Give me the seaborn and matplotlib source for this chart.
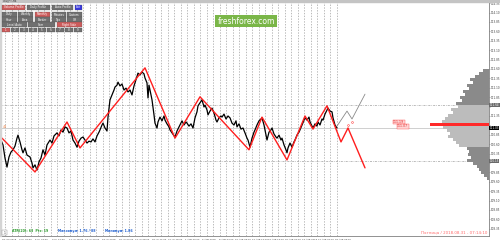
import numpy as np
import pandas as pd
import matplotlib
matplotlib.use("Agg")
import matplotlib.pyplot as plt
import seaborn as sns
from matplotlib.patches import Rectangle

# ---------------- data ----------------
bar_index = [1, 3, 5, 7, 9, 11, 13, 15, 17, 18, 20, 22, 23, 25, 27, 30, 32, 33, 35, 37, 39, 41, 43, 45, 47,
             50, 52, 54, 57, 59, 61, 63, 65, 67, 69, 71, 73, 75, 77, 79, 81, 83, 85, 87, 89, 91, 93, 95, 97,
             99, 100, 102, 103, 105, 107, 108, 110, 112, 114, 115, 117, 118, 120, 122, 124, 126, 128, 130,
             132, 134, 135, 137, 138, 140, 142, 144, 145, 147, 148, 149, 150, 152, 153, 154, 155, 157, 158,
             160, 162, 164, 165, 167, 169, 170, 172, 175, 177, 179, 180, 182, 184, 186, 187, 189, 191, 193,
             195, 197, 198, 200, 202, 204, 205, 207, 208, 210, 212, 214, 216, 217, 219, 221, 222, 224, 226,
             228, 230, 232, 234, 236, 237, 239, 241, 243, 245, 247, 248, 250, 252, 254, 255, 257, 259, 261,
             262, 264, 266, 267, 269, 271, 272, 274, 276, 277, 279, 281, 282, 284, 286, 287, 288, 290, 292,
             294, 295, 297, 299, 300, 302, 304, 305, 307, 309, 310, 312, 313, 315, 317, 318, 320, 322, 323,
             325, 327, 328, 330, 332, 333, 335, 337]
close = [110.71, 110.58, 110.23, 109.99, 110.26, 110.39, 110.45, 110.55, 110.76, 110.84, 110.66, 110.45,
         110.37, 110.50, 110.31, 110.26, 110.10, 109.97, 110.05, 109.91, 110.13, 110.23, 110.45, 110.31,
         110.58, 110.71, 110.63, 110.82, 110.90, 110.82, 110.98, 110.92, 111.06, 111.03, 110.90, 110.95,
         110.71, 110.63, 110.52, 110.68, 110.76, 110.79, 110.71, 110.63, 110.68, 110.66, 110.74, 110.66,
         110.82, 110.92, 110.98, 111.11, 111.16, 111.03, 110.95, 111.32, 111.78, 111.91, 112.04, 112.12,
         112.17, 112.25, 112.15, 112.20, 112.04, 112.09, 111.99, 112.04, 111.91, 112.15, 112.23, 112.41,
         112.49, 112.44, 112.52, 112.47, 112.36, 112.23, 111.83, 112.17, 112.04, 111.78, 111.59, 111.38,
         111.16, 111.03, 111.19, 111.32, 111.22, 111.35, 111.24, 111.14, 111.06, 110.98, 110.90, 110.79,
         110.95, 111.06, 111.11, 111.22, 111.11, 111.19, 111.16, 111.08, 111.14, 111.03, 111.30, 111.46,
         111.62, 111.70, 111.78, 111.59, 111.64, 111.51, 111.38, 111.48, 111.56, 111.43, 111.24, 111.19,
         111.30, 111.35, 111.32, 111.40, 111.27, 111.35, 111.30, 111.16, 111.11, 111.22, 111.06, 111.14,
         111.00, 111.03, 110.90, 110.76, 110.71, 110.52, 110.76, 110.92, 110.98, 111.11, 111.22, 111.27,
         111.30, 111.11, 110.84, 110.71, 110.92, 110.98, 111.03, 110.87, 110.79, 110.76, 110.84, 110.71,
         110.76, 110.58, 110.45, 110.37, 110.50, 110.63, 110.52, 110.66, 110.71, 110.84, 110.92, 110.98,
         111.11, 111.24, 111.30, 111.24, 111.32, 111.19, 111.08, 111.03, 111.14, 111.08, 111.19, 111.11,
         111.27, 111.24, 111.40, 111.51, 111.56, 111.48, 111.46, 111.30, 111.11, 111.03]

zz_index = [2, 35, 67, 80, 145, 175, 200, 249, 262, 287, 305, 313, 327, 341, 348, 365]
zz_price = [110.76, 109.86, 111.19, 110.50, 112.63, 110.76, 111.86, 110.45, 111.32, 110.18, 111.35,
            111.00, 111.62, 110.66, 111.03, 109.97]
alt_index = [337, 347, 352, 365]
alt_price = [111.08, 111.48, 111.27, 111.93]

levels = [111.64, 110.15]
last_price = 111.03
poc_price = 111.12

prof_price = [112.56, 112.48, 112.40, 112.32, 112.24, 112.16, 112.08, 112.00, 111.92, 111.84, 111.76,
              111.68, 111.60, 111.52, 111.44, 111.36, 111.28, 111.20, 111.12, 111.04, 110.96, 110.88,
              110.80, 110.72, 110.64, 110.56, 110.48, 110.40, 110.32, 110.24, 110.16, 110.08, 110.00,
              109.92, 109.84, 109.76, 109.68]
prof_width = [6, 10, 14, 19, 16, 22, 20, 26, 24, 29, 27, 33, 31, 38, 36, 41, 44, 47, 59, 46, 42, 39,
              41, 36, 33, 30, 22, 20, 21, 18, 22, 16, 12, 10, 8, 5, 2]

price_ticks = ["114.35", "114.10", "113.85", "113.60", "113.35", "113.10", "112.85", "112.60", "112.35",
               "112.10", "111.85", "", "111.35", "", "110.85", "110.60", "110.35", "",
               "109.85", "109.60", "109.35", "109.10", "108.85", "108.60", "108.35"]
price_tick_vals = [114.35, 114.10, 113.85, 113.60, 113.35, 113.10, 112.85, 112.60, 112.35, 112.10, 111.85,
                   111.60, 111.35, 111.10, 110.85, 110.60, 110.35, 110.10, 109.85, 109.60, 109.35, 109.10,
                   108.85, 108.60, 108.35]
date_index = [2, 19, 35, 52, 69, 85, 102, 119, 135, 152, 168, 185, 202, 219, 235, 252, 268, 285, 302, 318, 335]
date_labels = ["29 Jun 2018", "3 Jul 04:00", "5 Jul 08:00", "9 Jul 12:00", "11 Jul 16:00", "13 Jul 20:00",
               "18 Jul 2018", "20 Jul 04:00", "24 Jul 08:00", "26 Jul 12:00", "30 Jul 16:00", "1 Aug 20:00",
               "6 Aug 2018", "8 Aug 04:00", "10 Aug 08:00", "14 Aug 12:00", "16 Aug 16:00", "20 Aug 20:00",
               "23 Aug 2018", "27 Aug 04:00", "29 Aug 08:00"]

# ---------------- figure ----------------
sns.set_style("white")
plt.rcParams['font.family'] = ['DejaVu Sans']

fig = plt.figure(figsize=(5.0, 2.44), dpi=100)
ax = fig.add_axes([0.0, 8 / 244, 489 / 500, 234 / 244])
ax.set_xlim(0, 489)
ax.set_ylim(108.157, 114.382)

# day separators
for xv in np.arange(5, 343, 6.5):
    ax.axvline(xv, color='#a0a0a0', lw=0.5, ls=(0, (2, 2)), zorder=1)

# horizontal levels
for lv in levels:
    ax.axhline(lv, color='#a0a0a0', lw=0.5, ls=(0, (3, 1.5, 1, 1.5)), zorder=1)
ax.axhline(last_price, color='#c8c8c8', lw=0.6, zorder=1)

# volume profile
pcol = ['#8a8a8a' if (p >= 111.68 or p <= 110.48) else '#bcbcbc' for p in prof_price]
pw = np.array(prof_width, dtype=float)
ax.barh(prof_price, pw, left=489 - pw, height=0.07, color=pcol, edgecolor='none', zorder=2)
ax.barh([poc_price], [59], left=[430], height=0.09, color='#ff2a2a', edgecolor='none', zorder=3)

# price
df = pd.DataFrame({'bar': bar_index, 'price': close})
sns.lineplot(data=df, x='bar', y='price', color='black', lw=0.9, sort=False, estimator=None, ax=ax, zorder=4)

# zigzag & projection
zz = pd.DataFrame({'bar': zz_index, 'price': zz_price})
sns.lineplot(data=zz, x='bar', y='price', color='#ff1e1e', lw=1.0, sort=False, estimator=None, ax=ax, zorder=5)
alt = pd.DataFrame({'bar': alt_index, 'price': alt_price})
sns.lineplot(data=alt, x='bar', y='price', color='#8a8a8a', lw=0.6, sort=False, estimator=None, ax=ax, zorder=5)

ax.plot([348, 352], [111.11, 111.19], ls='none', marker='o', ms=1.3, mfc='none', mec='#ff4040', mew=0.4, zorder=6)

# small price boxes
ax.text(393, 111.19, "111.19", fontsize=2.3, color='#e03030', va='center', ha='left', zorder=6,
        bbox=dict(boxstyle='square,pad=0.15', fc='#ffd6d6', ec='#ff5050', lw=0.3))
ax.text(397, 111.07, "111.07", fontsize=2.3, color='#e03030', va='center', ha='left', zorder=6,
        bbox=dict(boxstyle='square,pad=0.15', fc='#ffd6d6', ec='#ff5050', lw=0.3))
ax.text(3, 111.06, "48", fontsize=2.3, color='#f08040', va='center', ha='left')

ax.set_xlabel('')
ax.set_ylabel('')

# axes styling
for s in ['top', 'left']:
    ax.spines[s].set_visible(False)
for s in ['right', 'bottom']:
    ax.spines[s].set_color('#808080')
    ax.spines[s].set_linewidth(0.6)

ax.yaxis.tick_right()
ax.set_yticks(price_tick_vals)
ax.set_yticklabels(price_ticks)
ax.tick_params(axis='y', labelsize=1.95, length=0.6, width=0.4, pad=0.3, colors='#404040')
ax.set_xticks(date_index)
ax.set_xticklabels(date_labels, ha='left')
ax.tick_params(axis='x', labelsize=1.75, length=1.5, width=0.4, pad=0.6, colors='#404040')

for val, bg in [(levels[0], '#6a6a6a'), (last_price, '#000000'), (levels[1], '#6a6a6a')]:
    ax.annotate(f"{val:.2f}", xy=(1.0, val), xycoords=('axes fraction', 'data'), xytext=(0.4, 0),
                textcoords='offset points', fontsize=1.95, color='white', va='center', ha='left',
                bbox=dict(boxstyle='square,pad=0.12', fc=bg, ec='none'), annotation_clip=False, zorder=7)

# footer texts inside plot
ax.text(12 / 489, 0.012, "ATR(20): 63  Pts: 19", transform=ax.transAxes, fontsize=2.3,
        color='#2a9a2a', fontweight='bold', va='bottom')
ax.text(58 / 489, 0.012, "Максимум: 1.76 / 88", transform=ax.transAxes, fontsize=2.3,
        color='#2060d0', fontweight='bold', va='bottom')
ax.text(105 / 489, 0.012, "Минимум: 1.86", transform=ax.transAxes, fontsize=2.3,
        color='#2060d0', fontweight='bold', va='bottom')
ax.text(487 / 489, 0.006, "Пятница / 2018.08.31 - 07:14:10", transform=ax.transAxes, fontsize=2.9,
        color='#ff6a6a', va='bottom', ha='right')

# ---------------- overlay (panel, watermark) ----------------
ov = fig.add_axes([0, 0, 1, 1], zorder=10)
ov.set_xlim(0, 500)
ov.set_ylim(244, 0)
ov.axis('off')
ov.patch.set_alpha(0)

ov.add_patch(Rectangle((0, 0), 500, 1.8, color='#c4c4c4'))
ov.add_patch(Rectangle((0, 0), 1.2, 236, color='#d4d4d4'))
ov.add_patch(Rectangle((2, 230), 5, 5, fc='white', ec='#888888', lw=0.3))
ov.text(4.5, 232.5, "1", fontsize=2.2, ha='center', va='center', color='#333333')

GRAY, RED, BLUE = '#707070', '#cd5b5b', '#3535dd'
buttons = [
    ("Volume Profile", 2, 25, 4.5, 10, RED), ("Daily Profile", 27, 50, 4.5, 10, GRAY),
    ("Auto Profile", 52, 73, 4.5, 10, GRAY), ("Exit", 75, 82, 4.5, 10, BLUE),
    ("Daily", 2, 17, 12.2, 16.8, GRAY), ("Weekly", 18, 33, 12.2, 16.8, GRAY),
    ("Monthly", 35, 50, 12.2, 16.8, RED), ("Minutes", 52, 66, 12.2, 16.8, GRAY),
    ("Custom", 67, 82, 12.2, 16.8, GRAY),
    ("Hour", 2, 17, 17.3, 21.8, GRAY), ("Area", 18, 33, 17.3, 21.8, GRAY),
    ("Border", 35, 50, 17.3, 21.8, GRAY), ("Tpo", 52, 66, 17.3, 21.8, GRAY),
    ("Off", 67, 82, 17.3, 21.8, GRAY),
    ("Level Auto", 2, 27, 22.3, 26.8, GRAY), ("Sum", 28, 55, 22.3, 26.8, GRAY),
    ("Right Side", 57, 82, 22.3, 26.8, RED),
]
for i in range(9):
    x0 = 2 + i * 8.95
    buttons.append((str(i + 1), x0, x0 + 8.2, 27.6, 32.3, RED if i == 0 else GRAY))
for txt, x0, x1, y0, y1, c in buttons:
    ov.add_patch(Rectangle((x0, y0), x1 - x0, y1 - y0, fc=c, ec='#505050', lw=0.2))
    ov.text((x0 + x1) / 2, (y0 + y1) / 2, txt, fontsize=2.0, color='white', ha='center', va='center')

ov.text(3, 1.0, "USDJPY,H4", fontsize=2.0, color='#333333', va='center')

ov.text(246, 21, "freshforex.com", fontsize=5.5, color='white', ha='center', va='center',
        bbox=dict(boxstyle='square,pad=0.25', fc='#7ab648', ec='none'))

fig.savefig("out.png", dpi=100, facecolor='white')
